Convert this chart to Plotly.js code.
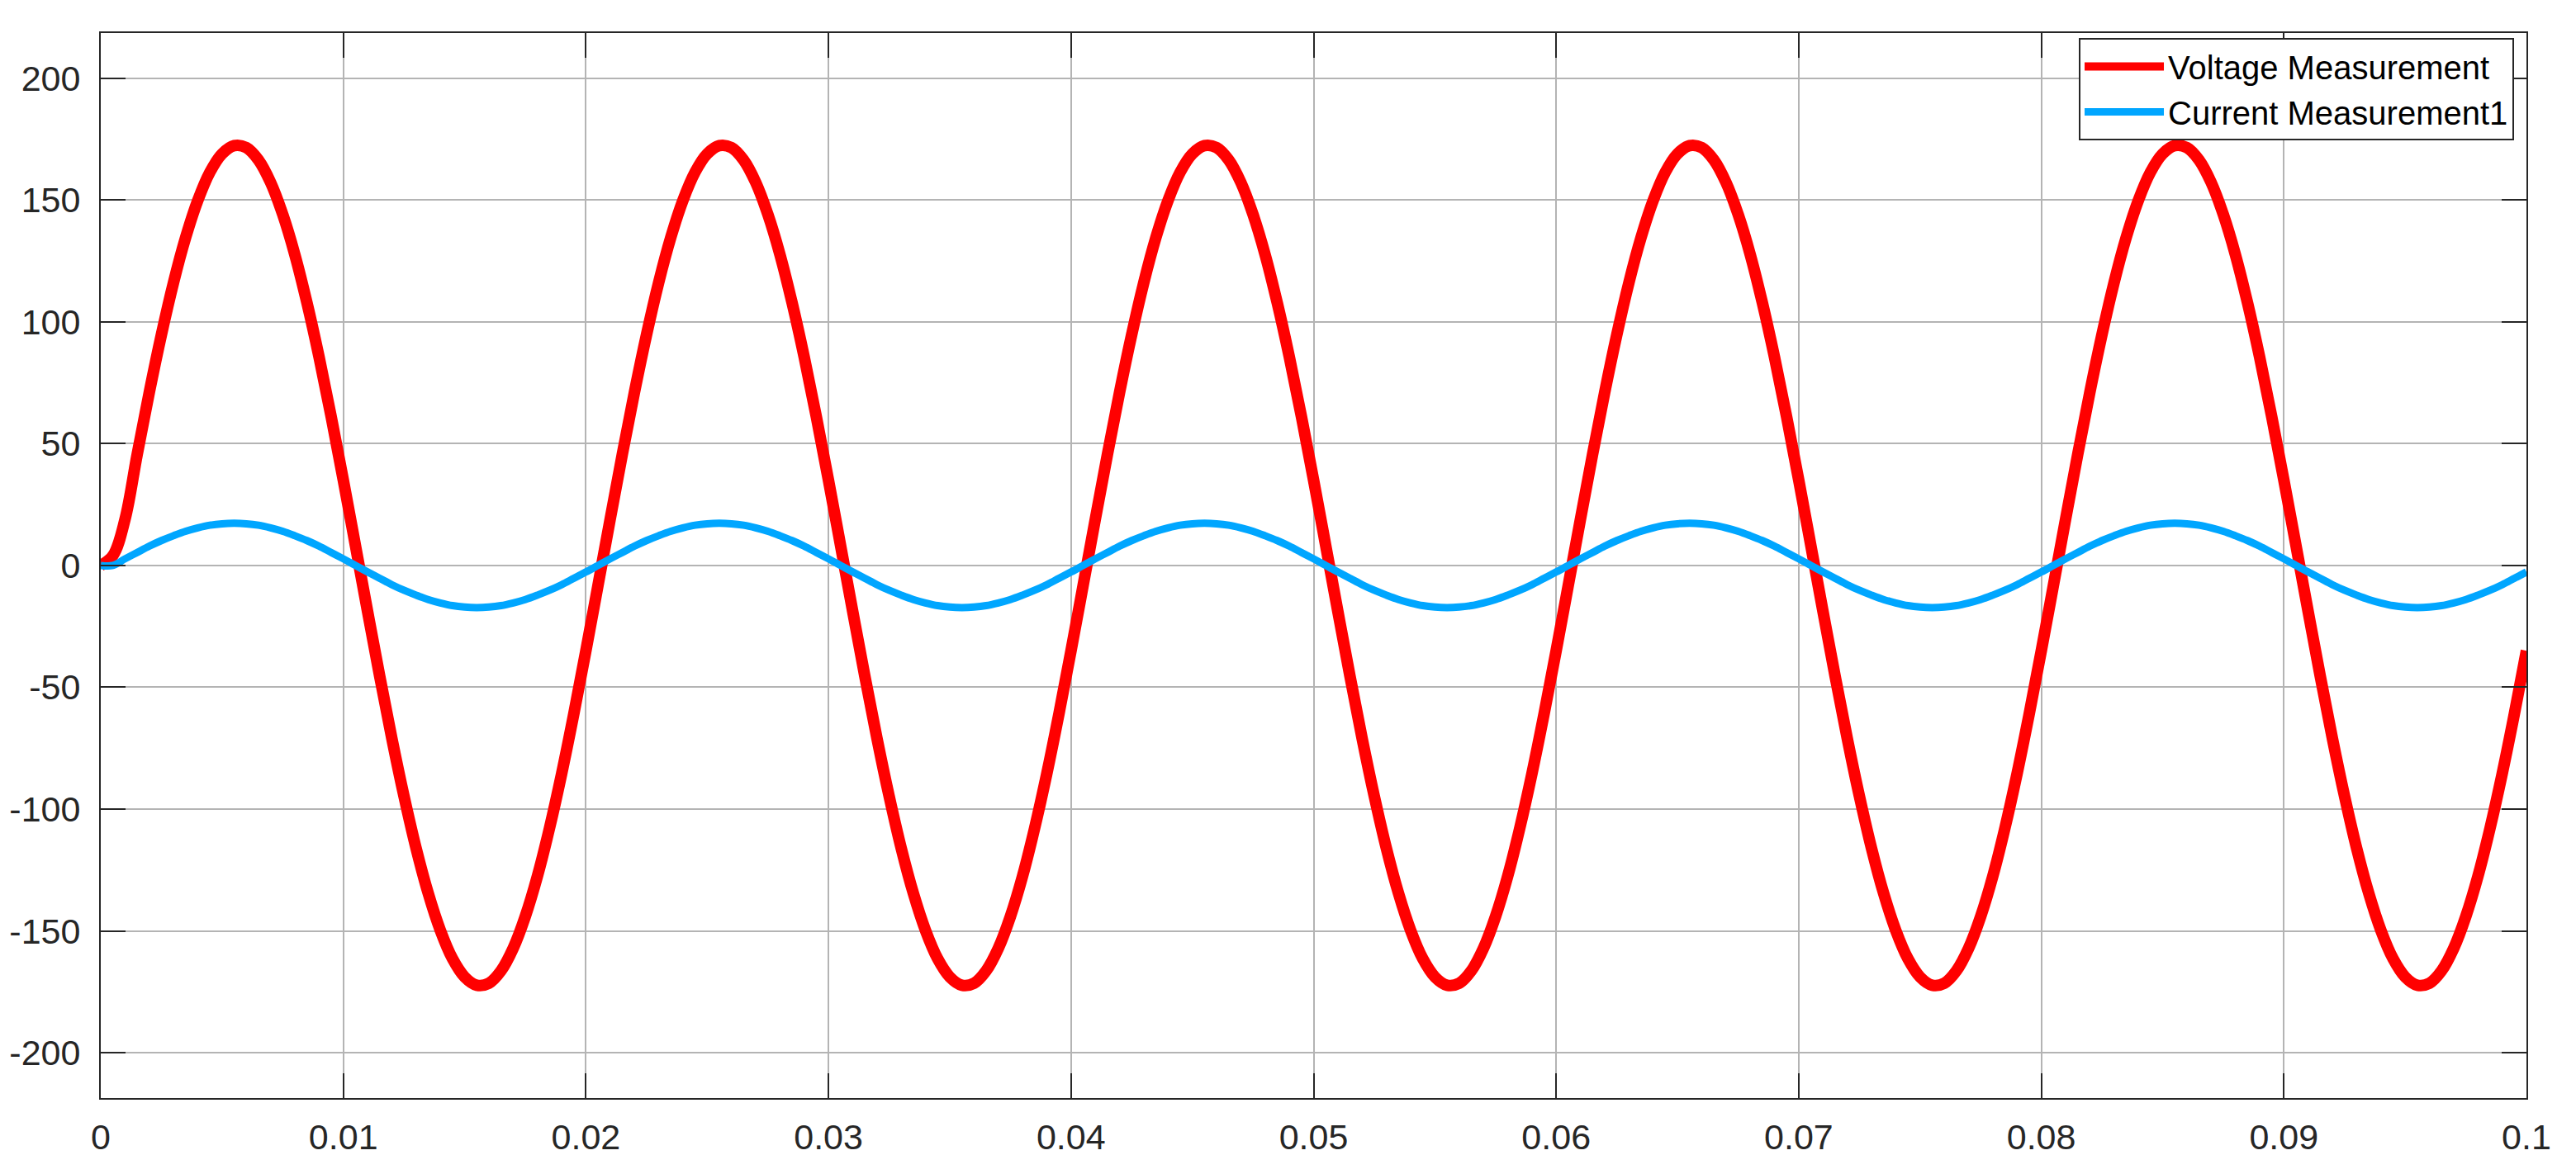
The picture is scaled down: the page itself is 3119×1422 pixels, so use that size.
<!DOCTYPE html>
<html>
<head>
<meta charset="utf-8">
<script src="https://cdn.plot.ly/plotly-3.0.1.min.js"></script>
<style>
  html, body { margin: 0; padding: 0; background: #ffffff; }
  #chart { width: 3119px; height: 1422px; }
</style>
</head>
<body>
<div id="chart"></div>
<script>
// Sampling of the scope traces (seconds)
const timeStart = 0;
const timeStep = 0.0005;

// Series names
const seriesNames = ["Voltage Measurement", "Current Measurement1"];

const voltage = [
  0, 4, 18.9, 45.5, 71.0, 94.7, 116.1, 134.6, 149.8, 161.4, 168.9, 172.3, 171.5, 166.4, 157.2, 144.1, 127.6, 107.8, 85.5, 61.0,
  35.0, 8.1, -18.9, -45.5, -71.0, -94.7, -116.1, -134.6, -149.8, -161.4, -168.9, -172.3, -171.5, -166.4, -157.2, -144.1, -127.6, -107.8, -85.5, -61.0, -35.0,
  -8.1, 18.9, 45.5, 71.0, 94.7, 116.1, 134.6, 149.8, 161.4, 168.9, 172.3, 171.5, 166.4, 157.2, 144.1, 127.6, 107.8, 85.5, 61.0,
  35.0, 8.1, -18.9, -45.5, -71.0, -94.7, -116.1, -134.6, -149.8, -161.4, -168.9, -172.3, -171.5, -166.4, -157.2, -144.1, -127.6, -107.8, -85.5, -61.0, -35.0,
  -8.1, 18.9, 45.5, 71.0, 94.7, 116.1, 134.6, 149.8, 161.4, 168.9, 172.3, 171.5, 166.4, 157.2, 144.1, 127.6, 107.8, 85.5, 61.0,
  35.0, 8.1, -18.9, -45.5, -71.0, -94.7, -116.1, -134.6, -149.8, -161.4, -168.9, -172.3, -171.5, -166.4, -157.2, -144.1, -127.6, -107.8, -85.5, -61.0, -35.0,
  -8.1, 18.9, 45.5, 71.0, 94.7, 116.1, 134.6, 149.8, 161.4, 168.9, 172.3, 171.5, 166.4, 157.2, 144.1, 127.6, 107.8, 85.5, 61.0,
  35.0, 8.1, -18.9, -45.5, -71.0, -94.7, -116.1, -134.6, -149.8, -161.4, -168.9, -172.3, -171.5, -166.4, -157.2, -144.1, -127.6, -107.8, -85.5, -61.0, -35.0,
  -8.1, 18.9, 45.5, 71.0, 94.7, 116.1, 134.6, 149.8, 161.4, 168.9, 172.3, 171.5, 166.4, 157.2, 144.1, 127.6, 107.8, 85.5, 61.0,
  35.0, 8.1, -18.9, -45.5, -71.0, -94.7, -116.1, -134.6, -149.8, -161.4, -168.9, -172.3, -171.5, -166.4, -157.2, -144.1, -127.6, -107.8, -85.5, -61.0, -35.0
];

// Current Measurement1 values (one sample every 0.5 ms)
const current = [
  0, 0, 2.7, 5.3, 7.9, 10.2, 12.2, 14.0, 15.4, 16.5, 17.1, 17.3, 17.1, 16.5, 15.4, 14.0, 12.2, 10.2, 7.9, 5.3,
  2.7, 0, -2.7, -5.3, -7.9, -10.2, -12.2, -14.0, -15.4, -16.5, -17.1, -17.3, -17.1, -16.5, -15.4, -14.0, -12.2, -10.2, -7.9, -5.3, -2.7,
  0, 2.7, 5.3, 7.9, 10.2, 12.2, 14.0, 15.4, 16.5, 17.1, 17.3, 17.1, 16.5, 15.4, 14.0, 12.2, 10.2, 7.9, 5.3,
  2.7, 0, -2.7, -5.3, -7.9, -10.2, -12.2, -14.0, -15.4, -16.5, -17.1, -17.3, -17.1, -16.5, -15.4, -14.0, -12.2, -10.2, -7.9, -5.3, -2.7,
  0, 2.7, 5.3, 7.9, 10.2, 12.2, 14.0, 15.4, 16.5, 17.1, 17.3, 17.1, 16.5, 15.4, 14.0, 12.2, 10.2, 7.9, 5.3,
  2.7, 0, -2.7, -5.3, -7.9, -10.2, -12.2, -14.0, -15.4, -16.5, -17.1, -17.3, -17.1, -16.5, -15.4, -14.0, -12.2, -10.2, -7.9, -5.3, -2.7,
  0, 2.7, 5.3, 7.9, 10.2, 12.2, 14.0, 15.4, 16.5, 17.1, 17.3, 17.1, 16.5, 15.4, 14.0, 12.2, 10.2, 7.9, 5.3,
  2.7, 0, -2.7, -5.3, -7.9, -10.2, -12.2, -14.0, -15.4, -16.5, -17.1, -17.3, -17.1, -16.5, -15.4, -14.0, -12.2, -10.2, -7.9, -5.3, -2.7,
  0, 2.7, 5.3, 7.9, 10.2, 12.2, 14.0, 15.4, 16.5, 17.1, 17.3, 17.1, 16.5, 15.4, 14.0, 12.2, 10.2, 7.9, 5.3,
  2.7, 0, -2.7, -5.3, -7.9, -10.2, -12.2, -14.0, -15.4, -16.5, -17.1, -17.3, -17.1, -16.5, -15.4, -14.0, -12.2, -10.2, -7.9, -5.3, -2.7
];

// Tick values and labels
const xTickVals = [0, 0.01, 0.02, 0.03, 0.04, 0.05, 0.06, 0.07, 0.08, 0.09, 0.1];
const xTickText = ["0", "0.01", "0.02", "0.03", "0.04", "0.05", "0.06", "0.07", "0.08", "0.09", "0.1"];
const yTickVals = [-200, -150, -100, -50, 0, 50, 100, 150, 200];
const yTickText = ["-200", "-150", "-100", "-50", "0", "50", "100", "150", "200"];

const axisColor = "#262626";
const gridColor = "#b4b4b4";
const tickFont = { family: "Liberation Sans, Arial, sans-serif", size: 43, color: axisColor };

const traces = [
  {
    type: "scatter", mode: "lines", name: seriesNames[0],
    x0: timeStart, dx: timeStep, y: voltage,
    line: { color: "#ff0000", width: 14, shape: "spline", smoothing: 1 }
  },
  {
    type: "scatter", mode: "lines", name: seriesNames[1],
    x0: timeStart, dx: timeStep, y: current,
    line: { color: "#00a6ff", width: 9, shape: "spline", smoothing: 1 }
  }
];

const commonAxis = {
  showline: true, linecolor: axisColor, linewidth: 2, mirror: "ticks",
  ticks: "inside", ticklen: 30, tickwidth: 2, tickcolor: axisColor,
  showgrid: true, gridcolor: gridColor, gridwidth: 2,
  zeroline: false, tickfont: tickFont, tickmode: "array"
};

const layout = {
  width: 3119, height: 1422,
  paper_bgcolor: "#ffffff", plot_bgcolor: "#ffffff",
  margin: { l: 122, r: 60, t: 40, b: 92 },
  showlegend: true,
  legend: {
    x: 0.9949, y: 0.9953, xanchor: "right", yanchor: "top",
    bgcolor: "#ffffff", bordercolor: axisColor, borderwidth: 2,
    font: { family: "Liberation Sans, Arial, sans-serif", size: 40, color: "#000000" },
    itemwidth: 96
  },
  xaxis: Object.assign({}, commonAxis, {
    range: [0, 0.1], tickvals: xTickVals, ticktext: xTickText, ticklabelstandoff: 8
  }),
  yaxis: Object.assign({}, commonAxis, {
    range: [-218.6, 218.5], tickvals: yTickVals, ticktext: yTickText, ticklabelstandoff: 14
  })
};

Plotly.newPlot("chart", traces, layout, { displayModeBar: false, staticPlot: true });
</script>
</body>
</html>
